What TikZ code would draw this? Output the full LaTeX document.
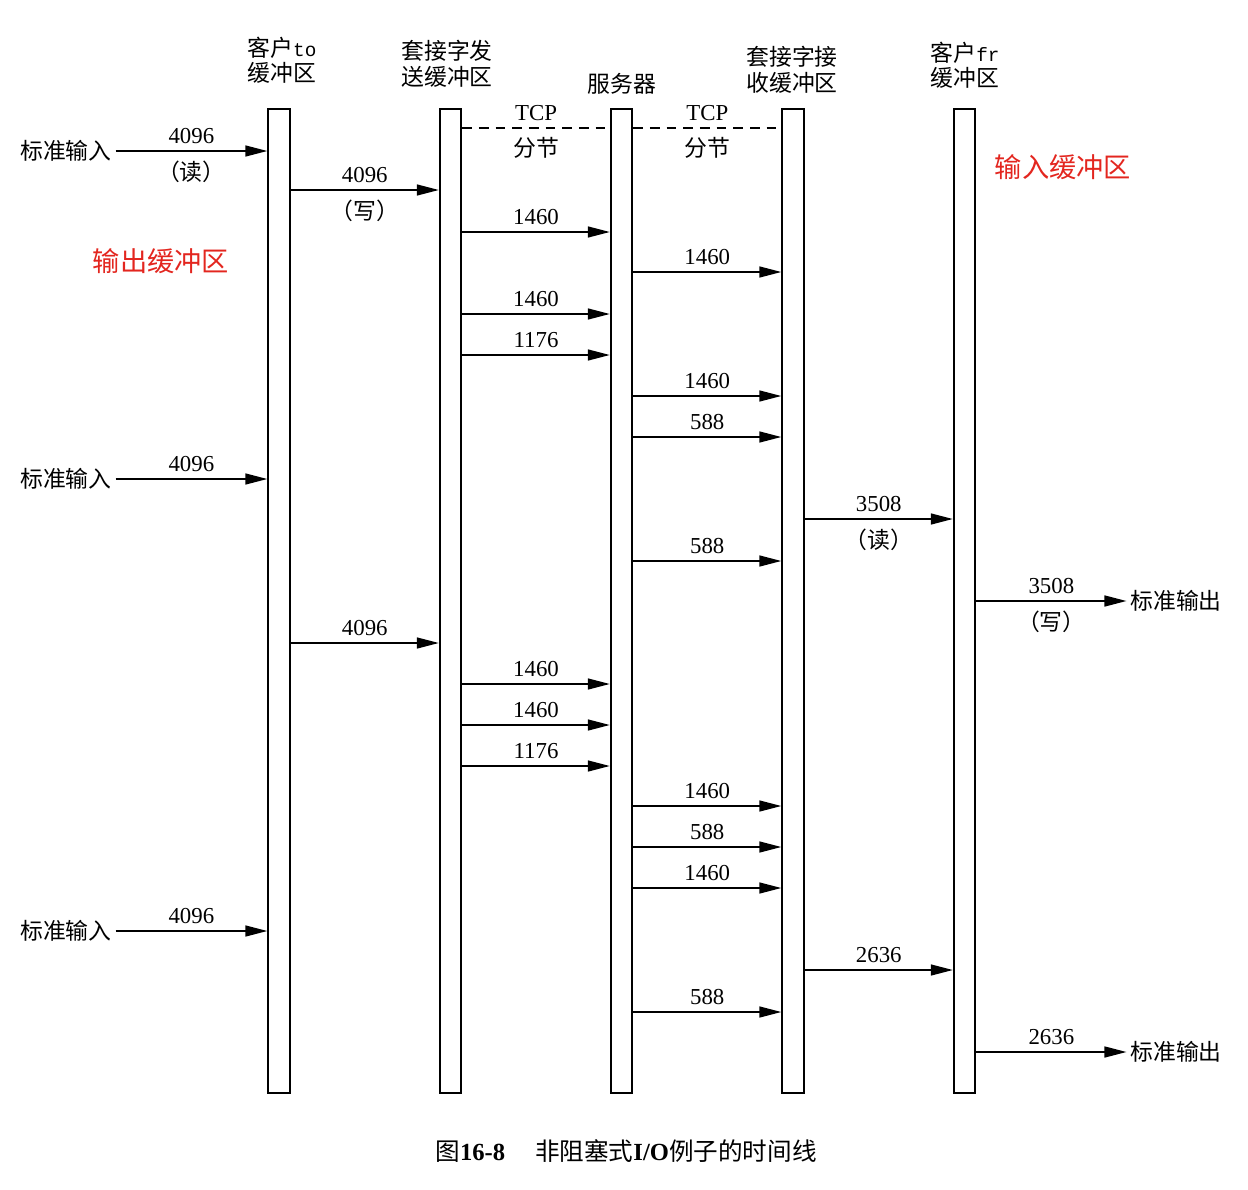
\documentclass[tikz,border=0pt]{standalone}
\usepackage{fontspec}
\setmainfont{Liberation Serif}
\setmonofont{Liberation Mono}
\newfontfamily\cjk{Noto Sans CJK SC}
\usetikzlibrary{arrows.meta, positioning}
\definecolor{notered}{HTML}{E3261F}

\begin{document}
\begin{tikzpicture}[x=0.02cm, y=-0.02cm,
    font=\fontsize{13}{15}\selectfont,
    buf/.style={draw, line width=1.1pt, minimum width=0.43cm, minimum height=19.68cm, inner sep=0pt},
    head/.style={align=center, font=\fontsize{13}{14.5}\selectfont\cjk},
    io/.style={inner sep=2pt, font=\fontsize{13}{15}\selectfont\cjk},
    num/.style={above=3pt, inner sep=1pt},
    sub/.style={below=4pt, inner sep=1pt, font=\fontsize{13}{15}\selectfont\cjk},
    note/.style={text=notered, font=\fontsize{15.5}{18}\selectfont\cjk},
    arr/.style={-{Triangle[length=0.44cm, width=0.22cm]}, line width=0.85pt},
    seg/.style={dashed, dash pattern=on 5.5pt off 4pt, line width=0.85pt}
  ]
  \useasboundingbox (0,0) rectangle (1248,1190);

  % the five buffers
  \node[buf] (cto) at (279,601) {};
  \node[buf] (snd) at (450.5,601) {};
  \node[buf] (srv) at (621.5,601) {};
  \node[buf] (rcv) at (793,601) {};
  \node[buf] (cfr) at (964.5,601) {};

  % headings
  \node[head] (hcto) at (282,60) {客户{\ttfamily\fontsize{11}{13}\selectfont to}\\缓冲区};
  \node[head] (hsnd) at (447,64) {套接字发\\送缓冲区};
  \node[head] (hsrv) at (622,84) {服务器};
  \node[head] (hrcv) at (792,70) {套接字接\\收缓冲区};
  \node[head] (hcfr) at (965,65) {客户{\ttfamily\fontsize{11}{13}\selectfont fr}\\缓冲区};

  \node[note] (obuf) at (161,261) {输出缓冲区};
  \node[note] (ibuf) at (1063,167) {输入缓冲区};

  % stdin / stdout
  \node[io] (in1) at (66,151) {标准输入};
  \node[io] (in2) at (66,479) {标准输入};
  \node[io] (in3) at (66,931) {标准输入};
  \node[io] (out1) at (1176,601) {标准输出};
  \node[io] (out2) at (1176,1052) {标准输出};

  % TCP segments
  \coordinate (y128) at (0,128);
  \draw[seg] (snd.east |- y128) -- node[num] (tcp1) {TCP} node[sub] (sg1) {分节} (srv.west |- y128);
  \draw[seg] (srv.east |- y128) -- node[num] (tcp2) {TCP} node[sub] (sg2) {分节} (rcv.west |- y128);

  \draw[arr] (in1) -- node[num] (n151) {4096} node[sub] (r151) {（读）} (cto.west |- in1);
  \draw[arr] (in2) -- node[num] (n479) {4096} (cto.west |- in2);
  \draw[arr] (in3) -- node[num] (n931) {4096} (cto.west |- in3);

  \coordinate (y190) at (0,190);
  \draw[arr] (cto.east |- y190) -- node[num] (n190) {4096} node[sub] (r190) {（写）} (snd.west |- y190);
  \coordinate (y519) at (0,519);
  \draw[arr] (rcv.east |- y519) -- node[num] (n519) {3508} node[sub] (r519) {（读）} (cfr.west |- y519);

  \draw[arr] (cfr.east |- out1) -- node[num] (n601) {3508} node[sub] (r601) {（写）} (out1);
  \draw[arr] (cfr.east |- out2) -- node[num] (n1052) {2636} (out2);

  \foreach \a/\b/\y/\t in {snd/srv/232/1460, srv/rcv/272/1460, snd/srv/314/1460,
      snd/srv/355/1176, srv/rcv/396/1460, srv/rcv/437/588, srv/rcv/561/588,
      cto/snd/643/4096, snd/srv/684/1460, snd/srv/725/1460, snd/srv/766/1176,
      srv/rcv/806/1460, srv/rcv/847/588, srv/rcv/888/1460, rcv/cfr/970/2636,
      srv/rcv/1012/588}{
    \coordinate (y\y) at (0,\y);
    \draw[arr] (\a.east |- y\y) -- node[num] (n\y) {\t} (\b.west |- y\y);
  }

  \node[font=\fontsize{14}{16}\selectfont] (cap) at (626,1151)
    {{\cjk 图}\textbf{16-8}\hspace{0.6cm}{\cjk 非阻塞式}\textbf{I/O}{\cjk 例子的时间线}};
\end{tikzpicture}
\end{document}
